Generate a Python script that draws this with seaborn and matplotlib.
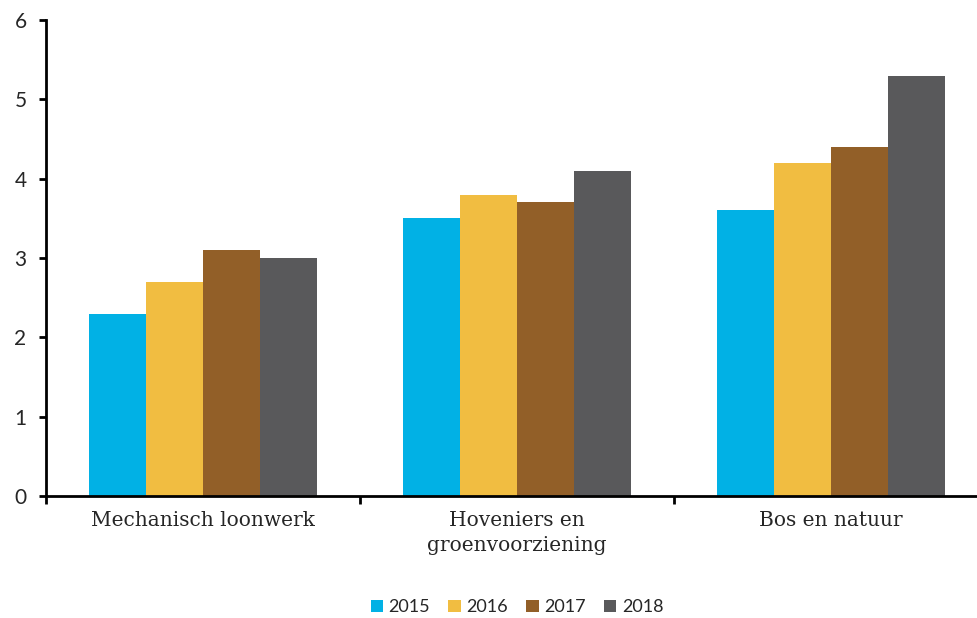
import matplotlib
matplotlib.use("Agg")
import matplotlib.pyplot as plt
import numpy as np
import pandas as pd
import seaborn as sns

categories = ["Mechanisch loonwerk", "Hoveniers en\ngroenvoorziening", "Bos en natuur"]
years = ["2015", "2016", "2017", "2018"]
values_2015 = [2.3, 3.5, 3.6]
values_2016 = [2.7, 3.8, 4.2]
values_2017 = [3.1, 3.7, 4.4]
values_2018 = [3.0, 4.1, 5.3]
colors = ["#01B1E5", "#F1BD41", "#925F28", "#59595B"]

rows = []
for year, vals in zip(years, [values_2015, values_2016, values_2017, values_2018]):
  for cat, v in zip(categories, vals):
    rows.append({"categorie": cat, "jaar": year, "waarde": v})
df = pd.DataFrame(rows)

sns.set_style("white")
plt.rcParams["font.family"] = ["Lato", "DejaVu Sans"]

fig = plt.figure(figsize=(9.77, 6.18), dpi=100)
ax = fig.add_axes([46 / 977, 122 / 618, 942 / 977, 476 / 618])

sns.barplot(
  data=df, x="categorie", y="waarde", hue="jaar", order=categories, hue_order=years,
  palette=colors, width=0.726, saturation=1, ax=ax, legend=True,
)
for p in ax.patches:
  p.set_linewidth(0)

ax.set_xlim(-0.5, 2.5)
ax.set_ylim(0, 6)
ax.set_yticks(range(0, 7))
ax.set_xlabel("")
ax.set_ylabel("")

sns.despine(ax=ax)
ax.spines["left"].set_linewidth(2)
ax.spines["bottom"].set_linewidth(2)
ax.spines["left"].set_color("black")
ax.spines["bottom"].set_color("black")

ax.set_xticks([-0.5, 0.5, 1.5, 2.5], minor=True)
ax.tick_params(axis="x", which="major", length=0, pad=11)
ax.tick_params(axis="x", which="minor", length=6, width=2, color="black", direction="out")
ax.tick_params(axis="y", length=5, width=2, color="black", direction="out", pad=9, labelsize=15)
ax.tick_params(bottom=True, left=True, which="both")
for lbl in ax.get_xticklabels():
  lbl.set_fontfamily("DejaVu Serif")
  lbl.set_fontsize(14.5)
  lbl.set_linespacing(1.4)

handles, labels = ax.get_legend_handles_labels()
ax.legend_.remove()
fig.legend(
  handles, labels, loc="lower center", bbox_to_anchor=(517 / 977, -0.022), ncol=4, frameon=False,
  fontsize=13, handlelength=0.7, handleheight=0.7, handletextpad=0.3, columnspacing=1.0,
)

fig.savefig("out.png", dpi=100)
